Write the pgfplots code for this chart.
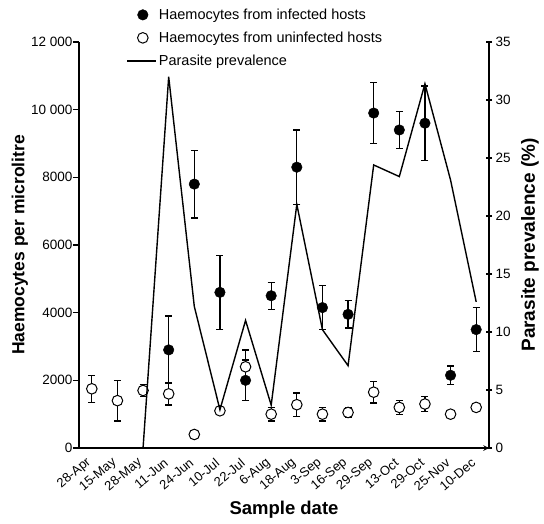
\documentclass[border=0pt]{standalone}
\usepackage{fontspec}
\setmainfont{Liberation Sans}
\usepackage{pgfplots}
\pgfplotsset{compat=1.18}
\pgfplotsset{
  common/.style={
    scale only axis, width=410pt, height=406pt,
    xmin=-0.5, xmax=15.5,
    tick align=center,
    major tick length=6pt,
    tick style={line width=1.3pt, black},
    axis line style={-, line width=1.5pt},
    scaled y ticks=false,
    /pgf/number format/assume math mode=true,
    ticklabel style={font=\fontsize{13.5}{16}\selectfont},
    label style={font=\fontsize{18.5}{22}\selectfont\bfseries},
  },
  markleg/.style={legend image code/.code={\draw[##1] plot coordinates {(0.55cm,0cm)};}},
  lineleg/.style={legend image code/.code={\draw[##1] (0cm,0cm) -- (1.02cm,0cm);}},
}
\begin{document}
\begin{tikzpicture}
% left axis: haemocytes
\begin{axis}[common, name=ax,
    axis x line=bottom, axis y line*=left,
    ymin=0, ymax=12000,
    ytick={0,2000,4000,6000,8000,10000,12000},
    yticklabels={0,2000,4000,6000,8000,10 000,12 000},
    ytick style={xshift=-3pt},
    xtick={0,...,15},
    xticklabels={28-Apr,15-May,28-May,11-Jun,24-Jun,10-Jul,22-Jul,6-Aug,18-Aug,3-Sep,16-Sep,29-Sep,13-Oct,29-Oct,25-Nov,10-Dec},
    xtick style={draw=none},
    minor xtick={-0.5,0.5,...,15.5},
    minor tick length=6pt,
    minor tick style={line width=1.3pt, black},
    xticklabel style={rotate=40, anchor=east, font=\fontsize{13}{15}\selectfont, xshift=-5pt, yshift=-6pt},
    xlabel={Sample date},
    ylabel={Haemocytes per microlitre},
    xlabel style={at={(axis description cs:0.5,-0.153)}, anchor=center},
    ylabel style={at={(axis description cs:-0.144,0.5)}, anchor=center, font=\fontsize{17.5}{21}\selectfont\bfseries},
    clip=false,
]
% infected hosts
\addplot[only marks, mark=*, mark size=5.3pt, black,
  error bars/.cd, y dir=both, y explicit,
  error bar style={line width=1.3pt, black},
  error mark options={rotate=90, mark size=3.5pt, line width=1.3pt, black}]
  coordinates {
  (3,2900) +- (0,1000)
  (4,7800) +- (0,1000)
  (5,4600) +- (0,1100)
  (6,2000) +- (0,600)
  (7,4500) +- (0,400)
  (8,8300) +- (0,1100)
  (9,4150) +- (0,650)
  (10,3950) +- (0,400)
  (11,9900) +- (0,900)
  (12,9400) +- (0,550)
  (13,9600) +- (0,1100)
  (14,2150) +- (0,270)
  (15,3500) +- (0,650)
};
% uninfected hosts
\addplot[only marks, mark=*, mark size=5.3pt, black, mark options={fill=white, line width=1pt},
  error bars/.cd, y dir=both, y explicit,
  error bar style={line width=1.3pt, black},
  error mark options={rotate=90, mark size=3.5pt, line width=1.3pt, black}]
  coordinates {
  (0,1750) +- (0,400)
  (1,1400) +- (0,600)
  (2,1700) +- (0,180)
  (3,1600) +- (0,330)
  (4,400) +- (0,0)
  (5,1100) +- (0,100)
  (6,2400) +- (0,500)
  (7,1000) +- (0,200)
  (8,1280) +- (0,350)
  (9,1000) +- (0,200)
  (10,1050) +- (0,150)
  (11,1650) +- (0,320)
  (12,1200) +- (0,200)
  (13,1300) +- (0,220)
  (14,1000) +- (0,0)
  (15,1200) +- (0,0)
};
\end{axis}
% right axis: prevalence
\begin{axis}[common,
    axis x line=none, axis y line*=right,
    ymin=0, ymax=35,
    ytick={0,5,...,35},
    yticklabels={0,5,10,15,20,25,30,35},
    ylabel={Parasite prevalence (\%)},
    ylabel style={at={(axis description cs:1.1,0.5)}, anchor=center, font=\fontsize{19}{22}\selectfont\bfseries},
    legend style={draw=none, fill=none, at={(axis description cs:0.108,1.092)}, anchor=north west,
      font=\fontsize{14.5}{17}\selectfont, row sep=7pt, cells={anchor=west}},
    clip=false,
]
\addlegendimage{only marks, mark=*, mark size=5.3pt, black, markleg}
\addlegendentry{Haemocytes from infected hosts}
\addlegendimage{only marks, mark=*, mark size=5.3pt, black, mark options={fill=white, line width=1pt}, markleg}
\addlegendentry{Haemocytes from uninfected hosts}
\addplot[black, line width=1.4pt, mark=none, lineleg]
  coordinates {
  (0,0) (1,0) (2,0) (3,32) (4,12.2) (5,3.3) (6,11) (7,3.7) (8,21)
  (9,10.2) (10,7.1) (11,24.4) (12,23.4) (13,31.4) (14,23.1) (15,12.6)
};
\addlegendentry{Parasite prevalence}
\end{axis}
\pgfresetboundingbox
\path[use as bounding box] ([shift={(-79pt,-75pt)}]ax.south west) rectangle ([shift={(55pt,42pt)}]ax.north east);
\end{tikzpicture}
\end{document}
